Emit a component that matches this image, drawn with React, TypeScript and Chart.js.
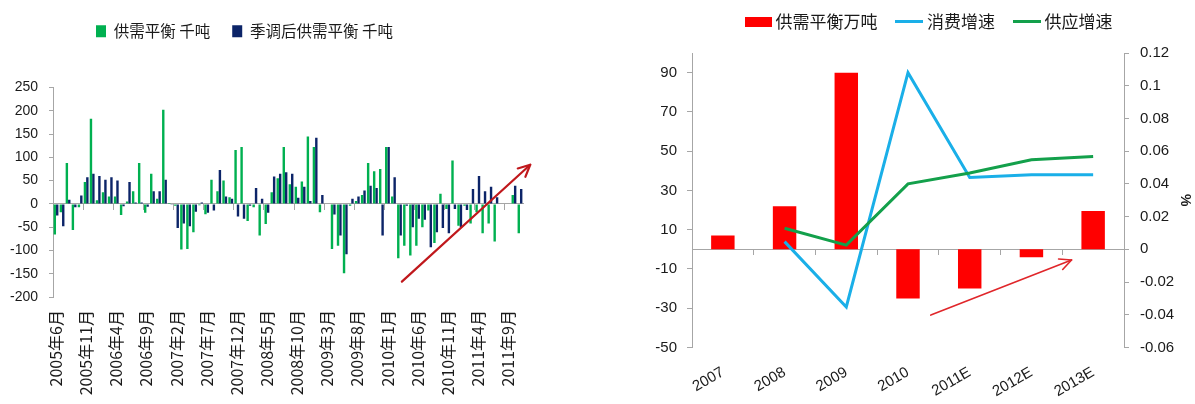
import React, { useEffect, useRef } from "react";
import { Chart, registerables } from "chart.js";

Chart.register(...registerables);

const CJK = '"Noto Sans CJK SC", "Noto Sans", sans-serif';
const NUM = '"Liberation Sans", Arial, sans-serif';
const TEXT = "#1a1a1a";
const AXIS = "#A6A6A6";

// ---------------- Left chart data ----------------
const monthLabels: string[] = [
  "2005年6月", "2005年7月", "2005年8月", "2005年9月", "2005年10月", "2005年11月", "2005年12月",
  "2006年1月", "2006年2月", "2006年3月", "2006年4月", "2006年5月", "2006年6月", "2006年7月", "2006年8月", "2006年9月", "2006年10月", "2006年11月", "2006年12月",
  "2007年1月", "2007年2月", "2007年3月", "2007年4月", "2007年5月", "2007年6月", "2007年7月", "2007年8月", "2007年9月", "2007年10月", "2007年11月", "2007年12月",
  "2008年1月", "2008年2月", "2008年3月", "2008年4月", "2008年5月", "2008年6月", "2008年7月", "2008年8月", "2008年9月", "2008年10月", "2008年11月", "2008年12月",
  "2009年1月", "2009年2月", "2009年3月", "2009年4月", "2009年5月", "2009年6月", "2009年7月", "2009年8月", "2009年9月", "2009年10月", "2009年11月", "2009年12月",
  "2010年1月", "2010年2月", "2010年3月", "2010年4月", "2010年5月", "2010年6月", "2010年7月", "2010年8月", "2010年9月", "2010年10月", "2010年11月", "2010年12月",
  "2011年1月", "2011年2月", "2011年3月", "2011年4月", "2011年5月", "2011年6月", "2011年7月", "2011年8月", "2011年9月", "2011年10月", "2011年11月",
];

// 供需平衡 千吨
const balanceRaw: (number | null)[] = [
  -66, -18, 88, -56, -7, 47, 183,
  8, 25, 16, 16, -24, 5, 27, 88, -19, 65, 11, 202,
  2, -4, -98, -97, -61, -3, -22, 52, 27, 50, 14, 116,
  122, -37, -7, -68, -43, 25, 55, 122, 42, 37, 48, 145,
  122, -18, null, -97, -90, -149, -4, 6, 19, 88, 70, 75,
  122, 16, -117, -90, -111, -90, -50, -14, -84, 22, -11, 93,
  -47, -4, -42, -18, -63, -42, -81, null, null, 19, -63,
];

// 季调后供需平衡 千吨
const balanceSA: (number | null)[] = [
  -25, -48, 9, -7, 18, 57, 65,
  60, 52, 57, 50, -5, 47, 3, 3, -6, 27, 27, 52,
  -2, -52, -42, -48, -17, 3, -19, -14, 73, 16, 11, -27,
  -32, -4, 34, 11, -19, 59, 65, 68, 65, 13, 37, 6,
  142, 19, null, -23, -68, -108, 11, 16, 29, 39, 34, -68,
  122, 57, -68, -4, -50, -32, -34, -93, -61, -52, -63, -11,
  -50, -13, 32, 60, 27, 37, 14, null, null, 39, 32,
];

const leftYMin = -200;
const leftYMax = 250;
const leftYStep = 50;
const leftLabelEvery = 5;
const leftArrow = { from: [57.4, -167], to: [78.7, 84] };

// ---------------- Right chart data ----------------
const years: string[] = ["2007", "2008", "2009", "2010", "2011E", "2012E", "2013E"];
const balanceWanTon: number[] = [7, 22, 90, -25, -20, -4, 19.5];
const consumptionGrowth: (number | null)[] = [null, 0.0047, -0.0352, 0.108, 0.0439, 0.0456, 0.0456];
const supplyGrowth: (number | null)[] = [null, 0.0129, 0.0026, 0.04, 0.0466, 0.0548, 0.0568];
const rightLeftTicks: number[] = [-50, -30, -10, 10, 30, 50, 70, 90];
const rightArrow = { from: [3.37, -33.5], to: [5.65, -5.4] };

// ---------------- plugins ----------------
const legendPlace = {
  id: "legendPlace",
  beforeDraw(chart: any, _args: any, opts: any) {
    const lg = chart.legend;
    if (!lg || !opts || opts.left == null) return;
    lg.left = opts.left;
    lg.top = opts.top;
    lg.right = chart.width + 2000;
  },
};

const trendArrow = {
  id: "trendArrow",
  afterDraw(chart: any, _args: any, opts: any) {
    if (!opts || !opts.from) return;
    const xs = chart.scales.x;
    const ys = chart.scales.y;
    const x0 = xs.getPixelForValue(opts.from[0]);
    const y0 = ys.getPixelForValue(opts.from[1]);
    const x1 = xs.getPixelForValue(opts.to[0]);
    const y1 = ys.getPixelForValue(opts.to[1]);
    const ctx = chart.ctx;
    ctx.save();
    ctx.strokeStyle = opts.color;
    ctx.lineWidth = opts.width;
    ctx.lineCap = "round";
    ctx.lineJoin = "round";
    ctx.beginPath();
    ctx.moveTo(x0, y0);
    ctx.lineTo(x1, y1);
    ctx.stroke();
    const ang = Math.atan2(y1 - y0, x1 - x0);
    const h = opts.head;
    const spread = Math.PI / 7;
    ctx.beginPath();
    ctx.moveTo(x1 - h * Math.cos(ang - spread), y1 - h * Math.sin(ang - spread));
    ctx.lineTo(x1, y1);
    ctx.lineTo(x1 - h * Math.cos(ang + spread), y1 - h * Math.sin(ang + spread));
    ctx.stroke();
    ctx.restore();
  },
};

function swatch(w: number, h: number, color: string) {
  const c = document.createElement("canvas");
  c.width = w;
  c.height = h;
  const g = c.getContext("2d");
  if (g) {
    g.fillStyle = color;
    g.fillRect(0, 0, w, h);
  }
  return c;
}

export default function App() {
  const leftRef = useRef<HTMLCanvasElement | null>(null);
  const rightRef = useRef<HTMLCanvasElement | null>(null);

  useEffect(() => {
    if (!leftRef.current || !rightRef.current) return;

    const left = new Chart(leftRef.current, {
      type: "bar",
      data: {
        labels: monthLabels,
        datasets: [
          {
            label: "供需平衡 千吨",
            data: balanceRaw,
            backgroundColor: "#00B050",
            borderWidth: 0,
            categoryPercentage: 0.8,
            barPercentage: 1.0,
          },
          {
            label: "季调后供需平衡 千吨",
            data: balanceSA,
            backgroundColor: "#0C2468",
            borderWidth: 0,
            categoryPercentage: 0.8,
            barPercentage: 1.0,
          },
        ],
      } as any,
      options: {
        responsive: false,
        animation: false,
        devicePixelRatio: 1,
        layout: { padding: { left: 0, right: 37, top: 40, bottom: 0 } },
        plugins: {
          legend: {
            display: true,
            position: "top",
            align: "start",
            labels: {
              boxWidth: 10,
              boxHeight: 12,
              padding: 22,
              color: TEXT,
              font: { family: CJK, size: 15.5 },
            },
          },
          tooltip: { enabled: false },
          legendPlace: { left: 74, top: 1.5 },
          trendArrow: { ...leftArrow, color: "#C0181C", width: 2.2, head: 13 },
        } as any,
        scales: {
          x: {
            type: "category",
            grid: { display: false },
            border: { display: false },
            ticks: {
              autoSkip: false,
              minRotation: 90,
              maxRotation: 90,
              padding: 5,
              color: TEXT,
              font: { family: CJK, size: 16 },
              callback: function (this: any, v: any, i: number) {
                return i % leftLabelEvery === 0 ? this.getLabelForValue(v) : "";
              },
            },
            afterFit: (s: any) => {
              s.height = 107;
            },
          },
          x2: {
            type: "category",
            axis: "x",
            position: { y: 0 },
            offset: true,
            grid: {
              display: true,
              offset: true,
              drawOnChartArea: false,
              drawTicks: true,
              tickLength: 6,
              color: (c: any) =>
                c.index !== undefined && c.index % leftLabelEvery === 0 ? AXIS : "rgba(0,0,0,0)",
            },
            border: { display: true, color: AXIS, width: 1 },
            ticks: { display: false, autoSkip: false },
          },
          y: {
            min: leftYMin,
            max: leftYMax,
            ticks: {
              stepSize: leftYStep,
              padding: 11,
              color: TEXT,
              font: { family: NUM, size: 14 },
            },
            grid: {
              display: true,
              drawOnChartArea: false,
              drawTicks: true,
              tickLength: 4,
              color: AXIS,
            },
            border: { display: true, color: AXIS, width: 1 },
            afterFit: (s: any) => {
              s.width = 53;
            },
          },
        } as any,
      },
      plugins: [legendPlace, trendArrow],
    } as any);

    const legendImgs = [swatch(27, 10, "#FF0000"), swatch(28, 3, "#1AAFE8"), swatch(28, 3, "#13A04B")];

    const right = new Chart(rightRef.current, {
      type: "bar",
      data: {
        labels: years,
        datasets: [
          {
            type: "bar",
            label: "供需平衡万吨",
            data: balanceWanTon,
            backgroundColor: "#FF0000",
            borderWidth: 0,
            yAxisID: "y",
            order: 3,
            barPercentage: 0.38,
            categoryPercentage: 1.0,
          },
          {
            type: "line",
            label: "消费增速",
            data: consumptionGrowth,
            borderColor: "#1AAFE8",
            backgroundColor: "#1AAFE8",
            borderWidth: 3,
            pointRadius: 0,
            tension: 0,
            yAxisID: "y1",
            order: 1,
          },
          {
            type: "line",
            label: "供应增速",
            data: supplyGrowth,
            borderColor: "#13A04B",
            backgroundColor: "#13A04B",
            borderWidth: 3,
            pointRadius: 0,
            tension: 0,
            yAxisID: "y1",
            order: 0,
          },
        ],
      } as any,
      options: {
        responsive: false,
        animation: false,
        devicePixelRatio: 1,
        layout: { padding: { left: 0, right: 0, top: 3, bottom: 0 } },
        plugins: {
          legend: {
            display: true,
            position: "top",
            align: "start",
            labels: {
              usePointStyle: true,
              pointStyleWidth: 18,
              padding: 23,
              color: TEXT,
              font: { family: CJK, size: 17 },
              sort: (a: any, b: any) => a.datasetIndex - b.datasetIndex,
              generateLabels: (chart: any) =>
                (Chart.defaults.plugins.legend.labels.generateLabels as any)(chart).map((l: any) => ({
                  ...l,
                  pointStyle: legendImgs[l.datasetIndex],
                })),
            },
          },
          tooltip: { enabled: false },
          legendPlace: { left: 106, top: -10 },
          trendArrow: { ...rightArrow, color: "#E0262A", width: 1.6, head: 13 },
        } as any,
        scales: {
          x: {
            type: "category",
            grid: { display: false },
            border: { display: false },
            ticks: {
              autoSkip: false,
              minRotation: 30,
              maxRotation: 30,
              padding: 8,
              color: TEXT,
              font: { family: NUM, size: 15 },
            },
            afterFit: (s: any) => {
              s.height = 56.5;
            },
          },
          x2: {
            type: "category",
            axis: "x",
            position: { y: 0 },
            offset: true,
            grid: {
              display: true,
              offset: true,
              drawOnChartArea: false,
              drawTicks: true,
              tickLength: 5,
              color: AXIS,
            },
            border: { display: true, color: AXIS, width: 1 },
            ticks: { display: false, autoSkip: false },
          },
          y: {
            position: "left",
            min: -50,
            max: 100,
            afterBuildTicks: (s: any) => {
              s.ticks = rightLeftTicks.map((v) => ({ value: v }));
            },
            ticks: { padding: 10, color: TEXT, font: { family: NUM, size: 15 } },
            grid: { display: true, drawOnChartArea: false, drawTicks: true, tickLength: 5, color: AXIS },
            border: { display: true, color: AXIS, width: 1 },
            afterFit: (s: any) => {
              s.width = 72;
            },
          },
          y1: {
            position: "right",
            min: -0.06,
            max: 0.12,
            ticks: {
              stepSize: 0.02,
              padding: 11,
              color: TEXT,
              font: { family: NUM, size: 15 },
              callback: (v: any) => String(Number(Number(v).toFixed(2))),
            },
            grid: { display: true, drawOnChartArea: false, drawTicks: true, tickLength: 5, color: AXIS },
            border: { display: true, color: AXIS, width: 1 },
            title: {
              display: true,
              text: "%",
              color: TEXT,
              font: { family: NUM, size: 14, weight: "bold" },
              padding: { top: 2, bottom: 0 },
            },
            afterFit: (s: any) => {
              s.width = 71;
            },
          },
        } as any,
      },
      plugins: [legendPlace, trendArrow],
    } as any);

    return () => {
      left.destroy();
      right.destroy();
    };
  }, []);

  return (
    <div
      style={{
        position: "fixed",
        left: 0,
        top: 0,
        width: 1195,
        height: 404,
        background: "#ffffff",
        overflow: "hidden",
      }}
    >
      <canvas
        ref={leftRef}
        width={560}
        height={404}
        style={{ position: "absolute", left: 0, top: 0, width: 560, height: 404 }}
      />
      <canvas
        ref={rightRef}
        width={575}
        height={404}
        style={{ position: "absolute", left: 620, top: 0, width: 575, height: 404 }}
      />
    </div>
  );
}
